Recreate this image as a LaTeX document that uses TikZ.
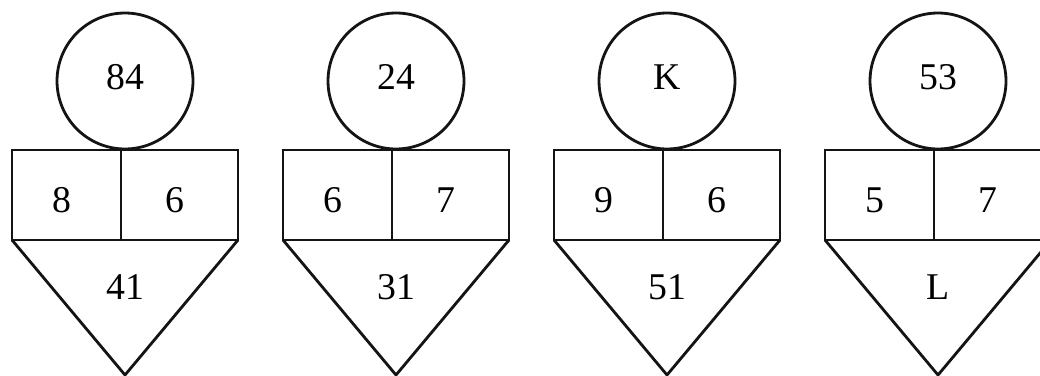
\documentclass[tikz,border=0pt]{standalone}
\usepackage{fontspec}
\setmainfont{Liberation Serif}
\usetikzlibrary{calc}
\definecolor{LineClr}{rgb}{0.08,0.08,0.08}

\begin{document}
\begin{tikzpicture}[x=0.02cm,y=-0.02cm]
\tikzset{shape line/.style={line width=1.6pt,color=LineClr},
  number/.style={font=\fontsize{21.5}{25}\selectfont,inner sep=0pt}}
\useasboundingbox (0,0) rectangle (1040,375);
\clip (0,0) rectangle (1040,375);

\newcommand{\Half}{113}
\foreach \i/\X/\Top/\Lft/\Rgt/\Bot in {1/125/84/8/6/41,2/396/24/6/7/31,3/667/K/9/6/51,4/938/53/5/7/L}{
  \draw[shape line] (\X,81) circle [radius=1.36cm];
  \draw[shape line] (\X-\Half,150) rectangle (\X+\Half,240);
  \draw[shape line] (\X-4,150) -- (\X-4,240);
  \draw[shape line] (\X-\Half,240) -- (\X,375) -- (\X+\Half,240);

  \node[number] (top\i) at (\X,77) {\Top};
  \node[number] (left\i) at (\X-63,200) {\Lft};
  \node[number] (right\i) at (\X+50,200) {\Rgt};
  \node[number] (bottom\i) at (\X,287) {\Bot};
}

\end{tikzpicture}
\end{document}
